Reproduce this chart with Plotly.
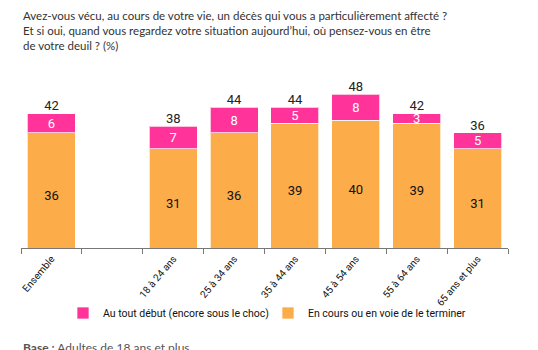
import plotly.graph_objects as go

categories = ["Ensemble", " ", "18 à 24 ans", "25 à 34 ans", "35 à 44 ans",
              "45 à 54 ans", "55 à 64 ans", "65 ans et plus"]
au_tout_debut = [6, None, 7, 8, 5, 8, 3, 5]
en_cours = [36, None, 31, 36, 39, 40, 39, 31]
totals = [42, None, 38, 44, 44, 48, 42, 36]

title_lines = [
    "Avez-vous vécu, au cours de votre vie, un décès qui vous a particulièrement affecté ?",
    "Et si oui, quand vous regardez votre situation aujourd’hui, où pensez-vous en être",
    "de votre deuil ? (%)",
]

PINK = "#FF3399"
ORANGE = "#FCAC48"
COND = "Roboto, Liberation Sans Narrow, sans-serif"

fig = go.Figure()
fig.add_trace(go.Bar(
    x=categories, y=en_cours, name="En cours ou en voie de le terminer",
    marker=dict(color=ORANGE, line=dict(color="rgba(255,255,255,0.7)", width=1)),
    hoverinfo="skip", legend="legend2",
))
fig.add_trace(go.Bar(
    x=categories, y=au_tout_debut, name="Au tout début (encore sous le choc)",
    marker=dict(color=PINK, line=dict(color="rgba(255,255,255,0.7)", width=1)),
    text=[str(v) if v is not None else "" for v in au_tout_debut],
    textposition="inside", insidetextanchor="middle", constraintext="none",
    textangle=0, cliponaxis=False,
    textfont=dict(color="white", size=13, family=COND),
    hoverinfo="skip", legend="legend",
))
# labels for orange segments
fig.add_trace(go.Scatter(
    x=categories, y=[v / 2 if v is not None else None for v in en_cours],
    mode="text", text=[str(v) if v is not None else "" for v in en_cours],
    textposition="bottom center", textfont=dict(color="#111", size=13, family=COND),
    showlegend=False, hoverinfo="skip", cliponaxis=False,
))
# totals
fig.add_trace(go.Scatter(
    x=categories, y=totals, mode="text",
    text=[str(v) if v is not None else "" for v in totals],
    textposition="top center", textfont=dict(color="#222", size=13, family=COND),
    showlegend=False, hoverinfo="skip", cliponaxis=False,
))

annotations = [dict(
    text="<br>".join(title_lines), xref="paper", yref="paper", x=0,
    y=(248 - 7) / 160, xanchor="left", yanchor="top", align="left", showarrow=False,
    font=dict(family="Lato, sans-serif", size=11.5, color="#333"),
)]
annotations.append(dict(
    text="<b>Base :</b> Adultes de 18 ans et plus", xref="paper", yref="paper",
    x=0, y=(248 - 347) / 160, xanchor="left", yanchor="middle", showarrow=False,
    font=dict(family="Lato, sans-serif", size=12, color="#555"),
))

legend_font = dict(family=COND, size=10.5, color="#111")
fig.update_layout(
    width=538, height=350,
    margin=dict(l=21, r=30, t=88, b=102),
    barmode="stack", bargap=0.21,
    plot_bgcolor="white", paper_bgcolor="white",
    uniformtext=dict(mode="show", minsize=13),
    xaxis=dict(
        type="category", tickson="boundaries", ticks="outside", ticklen=5,
        tickcolor="#777", showline=True, linecolor="#777", linewidth=1,
        tickangle=-50, tickfont=dict(family=COND, size=10, color="#111"),
        showgrid=False,
    ),
    yaxis=dict(range=[0, 50], visible=False, showgrid=False),
    legend=dict(
        orientation="h", x=(63 - 21) / 487, xanchor="left",
        y=(248 - 313) / 160, yanchor="middle", font=legend_font,
        bgcolor="rgba(0,0,0,0)",
    ),
    legend2=dict(
        orientation="h", x=(268 - 21) / 487, xanchor="left",
        y=(248 - 313) / 160, yanchor="middle", font=legend_font,
        bgcolor="rgba(0,0,0,0)",
    ),
    annotations=annotations,
)

fig.write_html("out.html")
